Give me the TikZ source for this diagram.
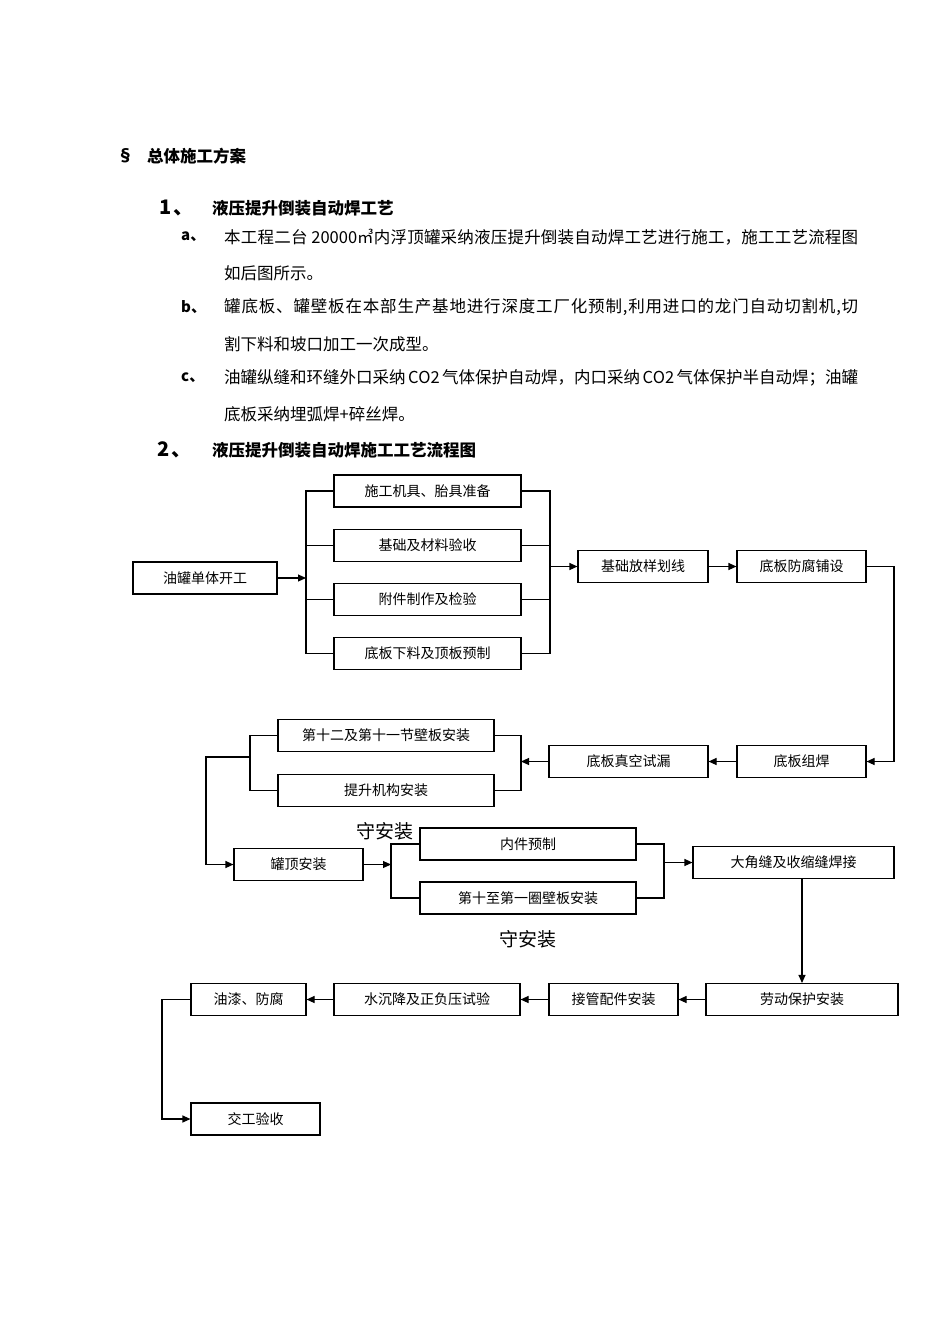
\documentclass[tikz,border=0pt]{standalone}
\usepackage{fontspec}
\setmainfont{Noto Sans CJK SC}
\usetikzlibrary{arrows.meta}
\newcommand{\myfs}[1]{\fontsize{#1}{#1}\selectfont}
\def\spreadend{\spreadend}
\newcommand\spreadline[2]{\hbox to #1{\spreadA#2\spreadend\unskip}}
\def\spreadA#1{\ifx\spreadend#1\else{#1}\hfil\expandafter\spreadA\fi}
\begin{document}
\begin{tikzpicture}[x=1pt,y=-1pt,
  box/.style={draw, line width=1.1pt, inner sep=0pt, minimum height=32pt, font=\myfs{14pt}},
  ln/.style={line width=1.1pt},
  arr/.style={ln, -{Triangle[length=8pt,width=7pt]}},
  txt/.style={anchor=west, inner sep=0pt, font=\myfs{16.5pt}},
  hd/.style={anchor=west, inner sep=0pt, font=\myfs{16.5pt}\bfseries},
  big/.style={inner sep=0pt, font=\myfs{19pt}},
]
\useasboundingbox (0,0) rectangle (950,1344);
\fill[white] (0,0) rectangle (950,1344);

% ---- text ----
\node[hd] (sec) at (117,156) {§};
\node[hd] (t0) at (147,156) {总体施工方案};
\node[hd, font=\myfs{20pt}\bfseries] (n1) at (159,208) {1\hspace{2pt}、};
\node[hd] (t1) at (212,208) {液压提升倒装自动焊工艺};
\node[hd, font=\myfs{15pt}\bfseries] (na) at (181,237) {a、};
\node[txt] (la1) at (224,237) {\spreadline{634pt}{本工程二台{\ 20000㎥}内浮顶罐采纳液压提升倒装自动焊工艺进行施工，施工工艺流程图}};
\node[txt] (la2) at (224,273) {如后图所示。};
\node[hd, font=\myfs{15pt}\bfseries] (nb) at (181,307) {b、};
\node[txt] (lb1) at (224,307) {\spreadline{634pt}{罐底板、罐壁板在本部生产基地进行深度工厂化预制,利用进口的龙门自动切割机,切}};
\node[txt] (lb2) at (224,344) {割下料和坡口加工一次成型。};
\node[hd, font=\myfs{15pt}\bfseries] (nc) at (181,378) {c、};
\node[txt] (lc1) at (224,378) {\spreadline{634pt}{油罐纵缝和环缝外口采纳{\ CO2\ }气体保护自动焊，内口采纳{\ CO2\ }气体保护半自动焊；油罐}};
\node[txt] (lc2) at (224,414) {底板采纳埋弧焊+碎丝焊。};
\node[hd, font=\myfs{20pt}\bfseries] (n2) at (157,450) {2\hspace{2pt}、};
\node[hd] (t2) at (212,450) {液压提升倒装自动焊施工工艺流程图};

% ---- boxes ----
\node[box, minimum width=144pt] (start) at (205,578) {油罐单体开工};
\node[box, minimum width=187pt] (p1) at (427.5,491) {施工机具、胎具准备};
\node[box, minimum width=187pt] (p2) at (427.5,545.5) {基础及材料验收};
\node[box, minimum width=187pt] (p3) at (427.5,599.5) {附件制作及检验};
\node[box, minimum width=187pt] (p4) at (427.5,653.5) {底板下料及顶板预制};
\node[box, minimum width=130pt] (jcfy) at (643,566.5) {基础放样划线};
\node[box, minimum width=129pt] (dbff) at (801.5,566.5) {底板防腐铺设};
\node[box, minimum width=129pt] (dbzh) at (801.5,761.5) {底板组焊};
\node[box, minimum width=159pt] (dbzk) at (628.5,761.5) {底板真空试漏};
\node[box, minimum width=216pt] (b12) at (386,735.5) {第十二及第十一节壁板安装};
\node[box, minimum width=216pt] (tsjg) at (386,790.5) {提升机构安装};
\node[box, minimum width=129pt] (gd) at (298.5,864.5) {罐顶安装};
\node[box, minimum width=216pt] (nj) at (528,844) {内件预制};
\node[box, minimum width=216pt] (b10) at (528,898) {第十至第一圈壁板安装};
\node[box, minimum width=201pt] (djf) at (793.5,862.5) {大角缝及收缩缝焊接};
\node[box, minimum width=192pt] (ldbh) at (802,999.5) {劳动保护安装};
\node[box, minimum width=129pt] (jg) at (613.5,999.5) {接管配件安装};
\node[box, minimum width=186pt] (scj) at (427,999.5) {水沉降及正负压试验};
\node[box, minimum width=115pt] (yq) at (248.5,999.5) {油漆、防腐};
\node[box, minimum width=129pt] (jy) at (255.5,1119) {交工验收};

\node[big] (s1) at (385,831) {守安装};
\node[big] (s2) at (528,939) {守安装};

% ---- connectors ----
\coordinate (bl) at (306,578);
\draw[arr] (start.east) -- (bl);
\draw[ln] (p1.west) -| (bl |- p4.west) -- (p4.west);
\draw[ln] (p2.west) -- (p2.west -| bl);
\draw[ln] (p3.west) -- (p3.west -| bl);
\coordinate (br) at (550,566.5);
\draw[ln] (p1.east) -| (br |- p4.east) -- (p4.east);
\draw[ln] (p2.east) -- (p2.east -| br);
\draw[ln] (p3.east) -- (p3.east -| br);
\draw[arr] (br) -- (jcfy.west);
\draw[arr] (jcfy) -- (dbff);
\coordinate (rr) at (894,566.5);
\draw[arr] (dbff.east) -- (rr) |- (dbzh.east);
\draw[arr] (dbzh) -- (dbzk);
\coordinate (r2) at (521,761.5);
\draw[arr] (dbzk.west) -- (r2);
\draw[ln] (b12.east) -| (r2 |- tsjg.east) -- (tsjg.east);
\coordinate (l2) at (250,757);
\draw[ln] (b12.west) -| (l2 |- tsjg.west) -- (tsjg.west);
\coordinate (l3) at (206,757);
\draw[arr] (l2) -- (l3) |- (gd.west);
\coordinate (b3) at (391,864.5);
\draw[arr] (gd.east) -- (b3);
\draw[ln] (nj.west) -| (b3 |- b10.west) -- (b10.west);
\coordinate (r3) at (664,862.5);
\draw[ln] (nj.east) -| (r3 |- b10.east) -- (b10.east);
\draw[arr] (r3) -- (djf.west);
\draw[arr] (djf.south -| ldbh.north) -- (ldbh.north);
\draw[arr] (ldbh) -- (jg);
\draw[arr] (jg) -- (scj);
\draw[arr] (scj) -- (yq);
\coordinate (l4) at (162,999.5);
\draw[arr] (yq.west) -- (l4) |- (jy.west);
\end{tikzpicture}
\end{document}
